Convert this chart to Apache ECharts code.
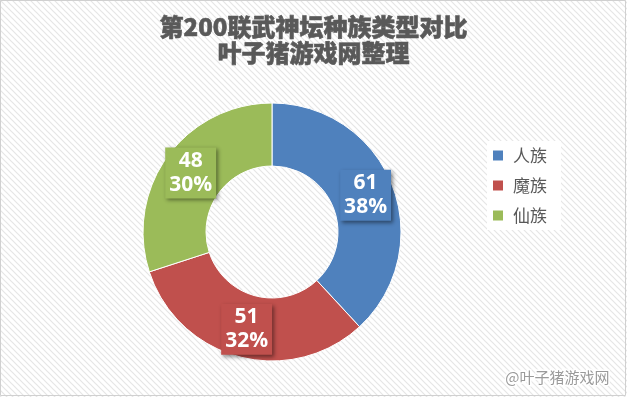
<!DOCTYPE html>
<html>
<head>
<meta charset="utf-8">
<script src="https://cdn.jsdelivr.net/npm/echarts@6/dist/echarts.min.js"></script>
<style>html,body{margin:0;padding:0;background:#fff}#c{width:627px;height:397px}</style>
</head>
<body>
<div id="c"></div>
<script>
const categories = ['人族', '魔族', '仙族'];
const values = [61, 51, 48];
const colors = ['#4F81BD', '#C0504D', '#9BBB59'];
const titleLines = ['第200联武神坛种族类型对比', '叶子猪游戏网整理'];
const watermark = '@叶子猪游戏网';

// striped background pattern
const pc = document.createElement('canvas');
pc.width = 6; pc.height = 6;
const pctx = pc.getContext('2d');
pctx.fillStyle = '#ffffff';
pctx.fillRect(0, 0, 6, 6);
pctx.strokeStyle = '#e6e6e6';
pctx.lineWidth = 1.2;
pctx.beginPath();
pctx.moveTo(-1, -1); pctx.lineTo(7, 7);
pctx.moveTo(-1, 5); pctx.lineTo(1, 7);
pctx.moveTo(5, -1); pctx.lineTo(7, 1);
pctx.stroke();

const chart = echarts.init(document.getElementById('c'));
const total = values.reduce((a, b) => a + b, 0);
chart.setOption({
  backgroundColor: { image: pc, repeat: 'repeat' },
  title: {
    text: titleLines.join('\n'),
    left: 'center',
    top: 9,
    textStyle: { fontSize: 24, fontWeight: 900, color: '#595959', lineHeight: 26, fontFamily: 'Noto Sans CJK SC',
      textBorderColor: '#595959', textBorderWidth: 0.6 }
  },
  legend: {
    orient: 'vertical',
    left: 487,
    top: 141,
    itemWidth: 12,
    itemHeight: 12,
    itemGap: 13,
    icon: 'rect',
    backgroundColor: '#ffffff',
    padding: [6, 14, 6, 4],
    textStyle: { fontSize: 17, color: '#595959', fontFamily: 'Noto Sans CJK SC', padding: [0, 0, 0, 4] },
    data: categories
  },
  graphic: [
    {
      type: 'rect', silent: true,
      shape: { x: 0.5, y: 0.5, width: 625, height: 395 },
      style: { fill: 'none', stroke: '#d0d0d0', lineWidth: 1 }
    },
    {
      type: 'text', right: 16, bottom: 11,
      style: {
        text: watermark, fontSize: 15, fill: '#9a9a9a',
        stroke: '#ffffff', lineWidth: 3, fontFamily: 'Noto Sans CJK SC'
      }
    }
  ],
  series: [{
    type: 'pie',
    center: [272, 232],
    radius: [66, 129],
    startAngle: 90,
    clockwise: true,
    avoidLabelOverlap: false,
    itemStyle: { borderColor: '#ffffff', borderWidth: 1 },
    label: {
      show: true,
      position: 'inside',
      formatter: p => p.value + '\n' + Math.round(p.value / total * 100) + '%',
      color: '#ffffff',
      fontSize: 21,
      fontWeight: 'bold',
      lineHeight: 24,
      fontFamily: 'Open Sans',
      align: 'center',
      backgroundColor: 'inherit',
      padding: [2, 4, 1, 4],
      shadowColor: 'rgba(0,0,0,0.45)',
      shadowBlur: 4,
      shadowOffsetX: 2,
      shadowOffsetY: 2
    },
    labelLine: { show: false },
    data: categories.map((c, i) => ({ name: c, value: values[i], itemStyle: { color: colors[i] } }))
  }]
});
</script>
</body>
</html>
